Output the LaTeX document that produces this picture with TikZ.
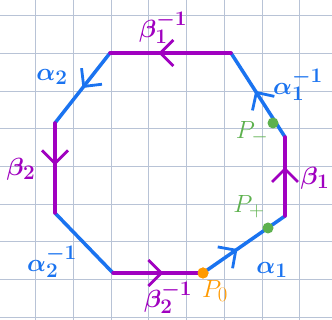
\documentclass[tikz,border=0pt]{standalone}
\usepackage{xcolor}
\definecolor{cAlpha}{HTML}{1A73F0}
\definecolor{cBeta}{HTML}{A000C0}
\definecolor{cPoint}{HTML}{5DB14E}
\definecolor{cBase}{HTML}{FF9A00}
\definecolor{cGrid}{HTML}{B8C3D6}
\usepackage{tikz}
\usetikzlibrary{arrows.meta,decorations.markings}
\tikzset{
  edge-alpha/.style={draw=cAlpha,line width=3.5pt,line cap=round},
  edge-beta/.style={draw=cBeta,line width=3.5pt,line cap=round},
  arrow-at/.style={postaction={decorate,decoration={markings,
    mark=at position #1 with {\arrow{Straight Barb[length=13pt,width=26pt,line width=2.8pt]}}}}},
  node-dot/.style={circle,inner sep=0pt,minimum size=11pt},
  label-alpha/.style={text=cAlpha,font=\Huge\boldmath},
  label-beta/.style={text=cBeta,font=\Huge\boldmath},
  label-point/.style={font=\Huge},
  grid-line/.style={draw=cGrid,line width=1pt},
}
\begin{document}
\begin{tikzpicture}[x=1pt,y=1pt]
  \useasboundingbox[fill=white] (0,0) rectangle (332,320);
  % grid paper
  \begin{scope}[shift={(35.5,2.7)}]
    \draw[grid-line,xstep=37.75,ystep=37.7] (-35.5,-2.7) grid (296.5,317.3);
  \end{scope}
  % corners of the octagon
  \coordinate (tl) at (110,267);
  \coordinate (tr) at (231,267);
  \coordinate (ur) at (285,183);
  \coordinate (lr) at (285,104);
  \coordinate (bl) at (113,47);
  \coordinate (ll) at (55,107);
  \coordinate (ul) at (55,197);
  \draw[edge-alpha] (ll) -- (bl);
  \draw[edge-alpha,arrow-at=0.5] (tl) -- (ul);
  \draw[edge-alpha,arrow-at=0.55] (ur) -- (tr);
  \node[node-dot,fill=cBase] (p0) at (203,47) {};
  \draw[edge-alpha,arrow-at=0.42] (p0.center) -- (lr);
  \draw[edge-beta,arrow-at=0.6] (tr) -- (tl);
  \draw[edge-beta,arrow-at=0.47] (ul) -- (ll);
  \draw[edge-beta,arrow-at=0.62] (lr) -- (ur);
  \draw[edge-beta,arrow-at=0.56] (bl) -- (p0.center);
  \node[node-dot,fill=cBase] at (p0) {};
  \node[node-dot,fill=cPoint] (pminus) at (273,197) {};
  \node[node-dot,fill=cPoint] (pplus) at (268,92) {};
  % labels
  \node[label-beta] (b1inv) at (163,292) {$\beta_1^{-1}$};
  \node[label-alpha] (a2) at (52,243) {$\alpha_2$};
  \node[label-alpha] (a1inv) at (298,235) {$\alpha_1^{-1}$};
  \node[label-beta] (b1) at (315,142) {$\beta_1$};
  \node[label-beta] (b2) at (21,151) {$\beta_2$};
  \node[label-alpha] (a2inv) at (52,58) {$\alpha_2^{-1}$};
  \node[label-beta] (b2inv) at (168,22) {$\beta_2^{-1}$};
  \node[label-alpha] (a1) at (272,50) {$\alpha_1$};
  \node[label-point,text=cPoint] (lminus) at (252,187) {$P_-$};
  \node[label-point,text=cPoint] (lplus) at (249,113) {$P_+$};
  \node[label-point,text=cBase] (lbase) at (215,29) {$P_0$};
\end{tikzpicture}
\end{document}
